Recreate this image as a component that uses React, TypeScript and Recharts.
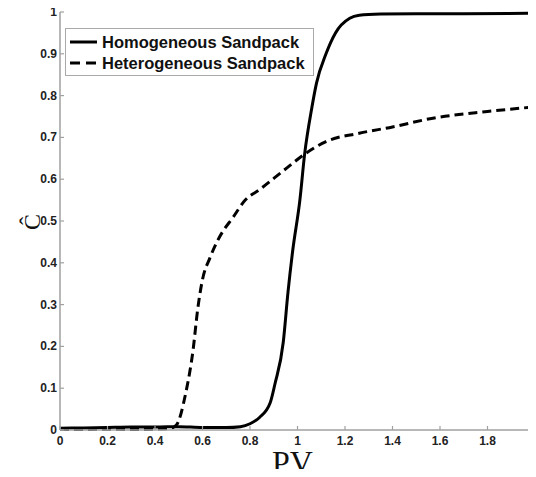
import React from 'react';
import { LineChart, Line, XAxis, YAxis, Legend, Label } from 'recharts';

const pvTicks = [0, 0.2, 0.4, 0.6, 0.8, 1, 1.2, 1.4, 1.6, 1.8, 2];
const cTicks = [0, 0.1, 0.2, 0.3, 0.4, 0.5, 0.6, 0.7, 0.8, 0.9, 1];
const seriesNames = ['Homogeneous Sandpack', 'Heterogeneous Sandpack'];

const homogeneousPV = [0, 0.1, 0.2, 0.3, 0.4, 0.5, 0.6, 0.7, 0.76, 0.8, 0.84, 0.885, 0.905, 0.94, 0.96, 0.98, 1.01, 1.03, 1.06, 1.08, 1.12, 1.16, 1.22, 1.26, 1.35, 1.5, 1.7, 2];
const homogeneousC = [0.004, 0.005, 0.006, 0.007, 0.007, 0.008, 0.006, 0.006, 0.008, 0.015, 0.03, 0.065, 0.11, 0.21, 0.33, 0.43, 0.55, 0.66, 0.77, 0.83, 0.9, 0.95, 0.985, 0.992, 0.995, 0.996, 0.996, 0.997];

const heterogeneousPV = [0, 0.1, 0.2, 0.3, 0.4, 0.46, 0.49, 0.53, 0.56, 0.58, 0.6, 0.63, 0.67, 0.73, 0.78, 0.84, 0.94, 1.03, 1.12, 1.26, 1.4, 1.57, 1.8, 2];
const heterogeneousC = [0.002, 0.001, 0.002, 0.001, 0.002, 0.003, 0.012, 0.09, 0.19, 0.29, 0.36, 0.41, 0.46, 0.51, 0.55, 0.575, 0.62, 0.66, 0.69, 0.71, 0.725, 0.746, 0.762, 0.773];

const homogeneous = homogeneousPV.map((pv, i) => ({ pv, c: homogeneousC[i] }));
const heterogeneous = heterogeneousPV.map((pv, i) => ({ pv, c: heterogeneousC[i] }));

const axisColor = '#a0a0a0';
const tickFont = { fontFamily: 'Liberation Sans, Arial, sans-serif', fontWeight: 700, fontSize: 12, fill: '#222' };
const serif = 'Liberation Serif, Times New Roman, serif';

const YTick = (props: any) => {
  const { x, y, payload } = props;
  return (
    <g>
      <line x1={x + 3} x2={x + 7} y1={y} y2={y} stroke={axisColor} strokeWidth={1.2} />
      <text x={x} y={y} dy={4} textAnchor="end" style={tickFont}>{payload.value}</text>
    </g>
  );
};

const XTick = (props: any) => {
  const { x, y, payload } = props;
  return (
    <g>
      <line x1={x} x2={x} y1={y - 6} y2={y - 10} stroke={axisColor} strokeWidth={1.2} />
      <text x={x} y={y} dy={9} textAnchor="middle" style={tickFont}>{payload.value}</text>
    </g>
  );
};

const TopTick = (props: any) => {
  const { x, y } = props;
  return <line x1={x} x2={x} y1={y} y2={y + 4} stroke={axisColor} strokeWidth={1.2} />;
};

const RightTick = (props: any) => {
  const { x, y } = props;
  return <line x1={x} x2={x - 4} y1={y} y2={y} stroke={axisColor} strokeWidth={1.2} />;
};

const PVLabel = (props: any) => {
  const { viewBox } = props;
  const cx = viewBox.x + viewBox.width / 2 - 5;
  return (
    <text x={cx} y={473} textAnchor="middle" style={{ fontFamily: serif, fontSize: 32, fill: '#111' }}>PV</text>
  );
};

const CLabel = () => (
  <text x={40} y={222} transform="rotate(-90 40 222)" textAnchor="middle"
    style={{ fontFamily: serif, fontSize: 24, fill: '#111' }}>Ĉ</text>
);

const LegendBox = (props: any) => {
  const items = [...(props.payload || [])].sort(
    (a: any, b: any) => seriesNames.indexOf(a.value) - seriesNames.indexOf(b.value)
  );
  return (
    <svg width={250} height={49}>
      <rect x={0.5} y={0.5} width={248} height={47} fill="#fff" stroke="#aaa" strokeWidth={1} />
      {items.map((entry: any, i: number) => (
        <g key={entry.value}>
          <line x1={5} x2={32} y1={14 + i * 21} y2={14 + i * 21} stroke="#000" strokeWidth={3}
            strokeDasharray={i === 1 ? '10 6' : undefined} />
          <text x={37} y={14 + i * 21} dy={6} style={{ fontFamily: 'Liberation Sans, Arial, sans-serif', fontWeight: 700, fontSize: 16.5, fill: '#111' }}>
            {entry.value}
          </text>
        </g>
      ))}
    </svg>
  );
};

const App: React.FC = () => {
  return (
    <div style={{ margin: -8, background: '#fff', width: 536, height: 477 }}>
      <LineChart width={536} height={477} margin={{ top: 12, right: 1, left: 0, bottom: 0 }}>
        <XAxis xAxisId="bottom" dataKey="pv" type="number" domain={[0, 2]} ticks={pvTicks} interval={0}
          allowDataOverflow height={47} tickSize={0} tickMargin={6} tick={<XTick />}
          stroke={axisColor} strokeWidth={1.5}>
          <Label content={<PVLabel />} />
        </XAxis>
        <XAxis xAxisId="top" orientation="top" dataKey="pv" type="number" domain={[0, 2]} ticks={pvTicks} interval={0}
          height={0} tickSize={0} tick={<TopTick />} stroke={axisColor} strokeWidth={1.5} />
        <YAxis yAxisId="left" type="number" domain={[0, 1]} ticks={cTicks} interval={0} width={60}
          tickSize={0} tickMargin={3} tick={<YTick />} stroke={axisColor} strokeWidth={1.5}>
          <Label content={<CLabel />} />
        </YAxis>
        <YAxis yAxisId="right" orientation="right" type="number" domain={[0, 1]} ticks={cTicks} interval={0} width={0}
          tickSize={0} tick={<RightTick />} stroke={axisColor} strokeWidth={1.5} />
        <Legend layout="vertical" align="center" verticalAlign="middle" content={<LegendBox />}
          wrapperStyle={{ top: 28, left: 65, width: 250, height: 49 }} />
        <Line xAxisId="bottom" yAxisId="left" data={homogeneous} dataKey="c" name={seriesNames[0]}
          type="monotone" stroke="#000" strokeWidth={3} dot={false} isAnimationActive={false} />
        <Line xAxisId="bottom" yAxisId="left" data={heterogeneous} dataKey="c" name={seriesNames[1]}
          type="monotone" stroke="#000" strokeWidth={3} strokeDasharray="9 5" dot={false} isAnimationActive={false} />
      </LineChart>
    </div>
  );
};

export default App;
